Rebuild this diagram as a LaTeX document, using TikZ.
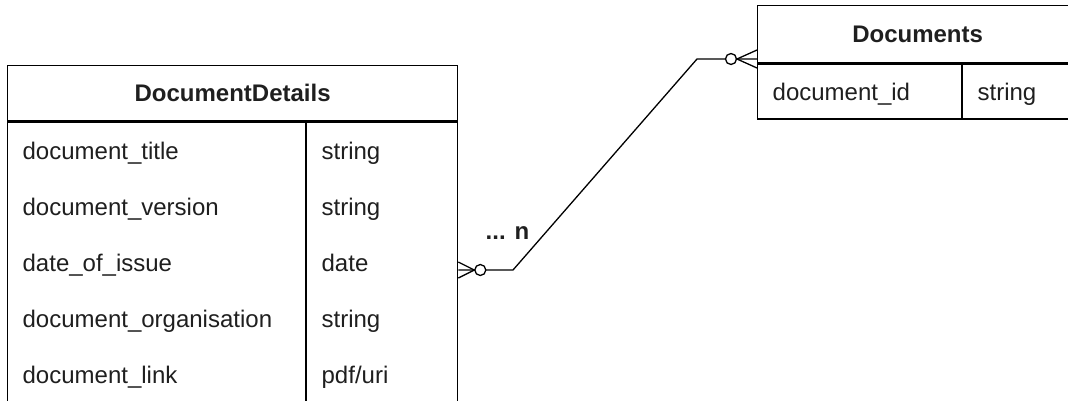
\documentclass[tikz,border=0pt]{standalone}
\usepackage{fontspec}
\setmainfont{Liberation Sans}
\begin{document}
\begin{tikzpicture}[x=1pt,y=-1pt,line width=1.3pt,
  every node/.style={font=\fontsize{24}{28}\selectfont,inner sep=0pt,text=black!88},
  boxpart/.style={draw,rectangle,anchor=north west,inner sep=0pt,text=black!88},
  hdr/.style={font=\fontsize{24}{28}\selectfont\bfseries},
  cell/.style={anchor=base west},
  lbl/.style={font=\fontsize{24}{28}\selectfont\bfseries,anchor=base west},
]
\useasboundingbox (0,0) rectangle (1068,400);
\clip (0,0) rectangle (1068,400);
% DocumentDetails table
\node[boxpart,hdr,minimum width=450pt,minimum height=55pt] (ddhead) at (7,65) {DocumentDetails};
\node[boxpart,minimum width=450pt,minimum height=284pt] (ddbody) at (ddhead.south west) {};
\draw ([xshift=299pt]ddbody.north west) -- ([xshift=299pt]ddbody.south west);
\node[cell] (ddr1n) at (22,159) {document\_title};
\node[cell] (ddr2n) at (22,215) {document\_version};
\node[cell] (ddr3n) at (22,271) {date\_of\_issue};
\node[cell] (ddr4n) at (22,327) {document\_organisation};
\node[cell] (ddr5n) at (22,383) {document\_link};
\node[cell] (ddr1t) at (321,159) {string};
\node[cell] (ddr2t) at (321,215) {string};
\node[cell] (ddr3t) at (321,271) {date};
\node[cell] (ddr4t) at (321,327) {string};
\node[cell] (ddr5t) at (321,383) {pdf/uri};
% Documents table
\node[boxpart,hdr,minimum width=320pt,minimum height=57pt] (dochead) at (757,5) {Documents};
\node[boxpart,minimum width=320pt,minimum height=55pt] (docbody) at (dochead.south west) {};
\draw ([xshift=205pt]docbody.north west) -- ([xshift=205pt]docbody.south west);
\node[cell] (docr1n) at (772,100) {document\_id};
\node[cell] (docr1t) at (977,100) {string};
% relationship
\coordinate (endA) at (ddbody.east |- 0,270);
\coordinate (endB) at (docbody.west |- 0,59);
\coordinate (bendA) at (513,270);
\coordinate (bendB) at (697,59);
\draw (endA) -- (bendA) -- (bendB) -- (endB);
% crow's foot + circle at DocumentDetails end
\draw[fill=white] ([xshift=22pt]endA) circle[radius=5.5pt];
\draw ([yshift=-8pt]endA) -- ([xshift=16pt]endA) -- ([yshift=8pt]endA);
% crow's foot + circle at Documents end
\draw[fill=white] ([xshift=-26pt]endB) circle[radius=5.5pt];
\draw ([yshift=-9pt]endB) -- ([xshift=-20pt]endB) -- ([yshift=9pt]endB);
\node[lbl] (card) at (485,239) {... n};
\end{tikzpicture}
\end{document}
